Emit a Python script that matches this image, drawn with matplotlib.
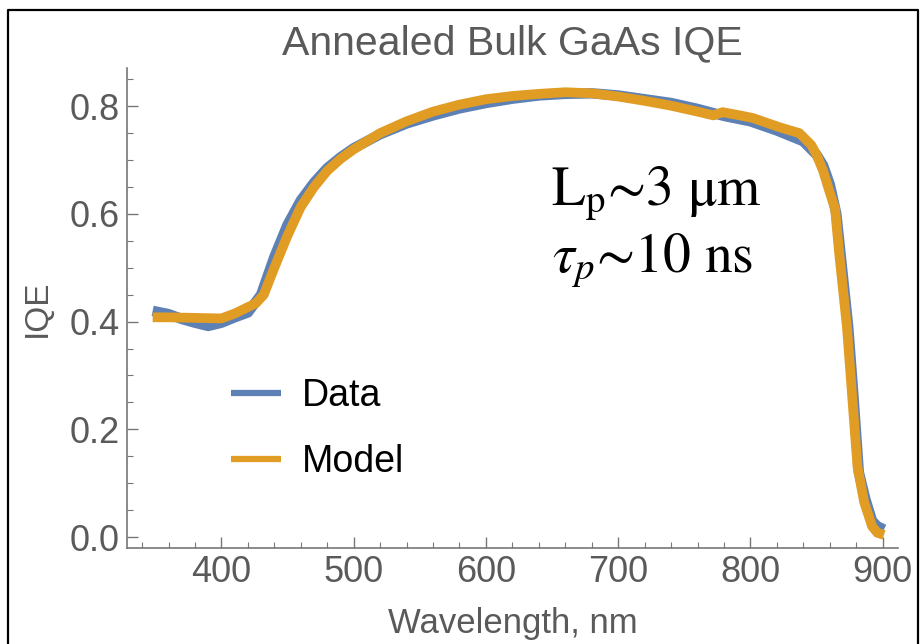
import matplotlib
matplotlib.use('Agg')
from matplotlib import pyplot as plt
from matplotlib.lines import Line2D
from matplotlib.ticker import MultipleLocator

# measured IQE (blue)
wl_data = [348, 360, 370, 380, 390, 400, 410, 420, 430, 440, 450, 460, 470, 480, 490,
           500, 520, 540, 560, 580, 600, 620, 640, 660, 680, 700, 720, 740, 760, 780,
           800, 820, 840, 850, 855, 860, 865, 868, 871, 874, 878, 882, 887, 892, 896, 901]
iqe_data = [0.420, 0.414, 0.405, 0.398, 0.392, 0.398, 0.408, 0.417, 0.450, 0.520, 0.580,
            0.625, 0.658, 0.685, 0.705, 0.722, 0.748, 0.768, 0.783, 0.796, 0.806, 0.814,
            0.820, 0.823, 0.824, 0.820, 0.813, 0.806, 0.795, 0.782, 0.772, 0.755, 0.735,
            0.710, 0.690, 0.655, 0.600, 0.530, 0.460, 0.390, 0.260, 0.120, 0.070, 0.030,
            0.020, 0.014]

# model fit (orange)
wl_model = [348, 360, 380, 400, 410, 420, 426, 432, 440, 450, 460, 470, 480, 490, 500,
            520, 540, 560, 580, 600, 620, 640, 660, 680, 700, 720, 740, 760, 772, 779,
            792, 802, 822, 837, 846, 850, 855, 860, 864, 867, 870, 873, 877, 881, 886,
            892, 896, 901]
iqe_model = [0.408, 0.408, 0.407, 0.406, 0.415, 0.427, 0.434, 0.450, 0.500, 0.560, 0.613,
             0.650, 0.680, 0.702, 0.720, 0.750, 0.772, 0.790, 0.803, 0.813, 0.819, 0.823,
             0.826, 0.824, 0.818, 0.810, 0.801, 0.790, 0.783, 0.789, 0.783, 0.778, 0.761,
             0.750, 0.728, 0.710, 0.680, 0.640, 0.610, 0.530, 0.460, 0.390, 0.260, 0.130,
             0.065, 0.020, 0.008, 0.004]

blue = '#5E81B5'
orange = '#E19C24'
gray = '#5a5a5a'

plt.rcParams['font.family'] = ['Liberation Sans', 'DejaVu Sans']
plt.rcParams['mathtext.fontset'] = 'stix'

fig = plt.figure(figsize=(9.23, 6.44), dpi=100)
ax = fig.add_axes([0.1376, 0.149, 0.8353, 0.745])

ax.plot(wl_data, iqe_data, color=blue, lw=7.5, solid_joinstyle='round',
        solid_capstyle='butt', label='Data')
ax.plot(wl_model, iqe_model, color=orange, lw=7.0, solid_joinstyle='round',
        solid_capstyle='butt', label='Model')

ax.set_xlim(328.6, 911.6)
ax.set_ylim(-0.0204, 0.8705)
ax.xaxis.set_major_locator(MultipleLocator(100))
ax.xaxis.set_minor_locator(MultipleLocator(20))
ax.yaxis.set_major_locator(MultipleLocator(0.2))
ax.yaxis.set_minor_locator(MultipleLocator(0.05))
ax.yaxis.set_major_formatter(plt.FuncFormatter(lambda v, p: f'{v:.1f}'))

for s in ['top', 'right']:
    ax.spines[s].set_visible(False)
for s in ['left', 'bottom']:
    ax.spines[s].set_color('#777777')
    ax.spines[s].set_linewidth(1.2)

ax.tick_params(which='major', direction='in', length=8, width=1, color='#777777',
               labelsize=26, labelcolor=gray, pad=5)
ax.tick_params(which='minor', direction='in', length=4, width=0.8, color='#777777')

ax.set_title('Annealed Bulk GaAs IQE', fontsize=29.5, color=gray, pad=10)
ax.set_xlabel('Wavelength, nm', fontsize=25, color=gray, labelpad=12)
ax.set_ylabel('IQE', fontsize=24, color=gray, labelpad=12)

leg = ax.legend(loc='lower left', bbox_to_anchor=(0.091, 0.071), frameon=False,
                fontsize=27, handlelength=1.33, handletextpad=0.55, labelspacing=0.8)
for ln in leg.get_lines():
    ln.set_linewidth(4.5)

ax.text(649, 0.616, r'L$_{\mathrm{p}}$∼3 μm', fontsize=40, family='STIXGeneral',
        color='black')
ax.text(650, 0.492, r'$\tau_p$∼10 ns', fontsize=40, family='STIXGeneral',
        color='black')

# outer frame of the screenshot
fig.add_artist(Line2D([0.009, 0.009, 0.995, 0.995], [0.0, 0.985, 0.985, 0.0],
                      transform=fig.transFigure, color='black', lw=1.6))

fig.savefig('out.png', dpi=100)
